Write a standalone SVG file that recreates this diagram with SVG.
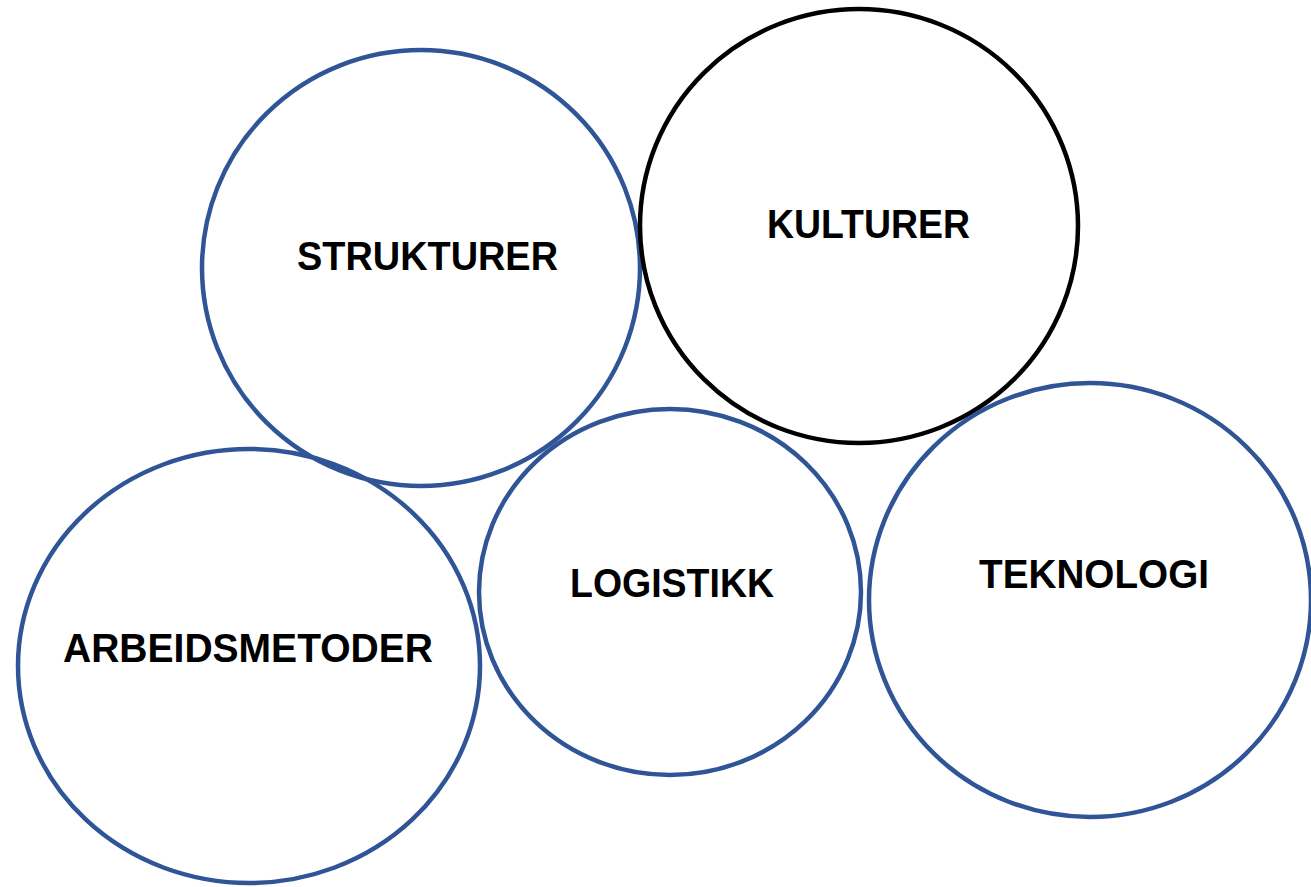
<svg xmlns="http://www.w3.org/2000/svg" width="1311" height="887" viewBox="0 0 1311 887">
<style>
.c{fill:none;stroke:#2F5597;stroke-width:4.5}
.k{fill:none;stroke:#000;stroke-width:4.5}
.t{font-family:"Liberation Sans",Arial,sans-serif;font-weight:bold;font-size:40px;fill:#000}
</style>
<rect width="1311" height="887" fill="#fff"/>
<g id="strukturer">
<ellipse class="c" cx="421" cy="268" rx="219" ry="218"/>
<text class="t" x="297" y="270" textLength="261" lengthAdjust="spacingAndGlyphs">STRUKTURER</text>
</g>
<g id="kulturer">
<ellipse class="k" cx="859" cy="226" rx="219" ry="217"/>
<text class="t" x="767" y="238" textLength="203" lengthAdjust="spacingAndGlyphs">KULTURER</text>
</g>
<g id="arbeidsmetoder">
<ellipse class="c" cx="249" cy="666" rx="231" ry="217"/>
<text class="t" x="63" y="662" textLength="370" lengthAdjust="spacingAndGlyphs">ARBEIDSMETODER</text>
</g>
<g id="logistikk">
<ellipse class="c" cx="670" cy="592" rx="191" ry="183"/>
<text class="t" x="570" y="597" textLength="204" lengthAdjust="spacingAndGlyphs">LOGISTIKK</text>
</g>
<g id="teknologi">
<ellipse class="c" cx="1090" cy="600" rx="221" ry="217"/>
<text class="t" x="979" y="588" textLength="230" lengthAdjust="spacingAndGlyphs">TEKNOLOGI</text>
</g>
<g id="connectors"></g>
</svg>
